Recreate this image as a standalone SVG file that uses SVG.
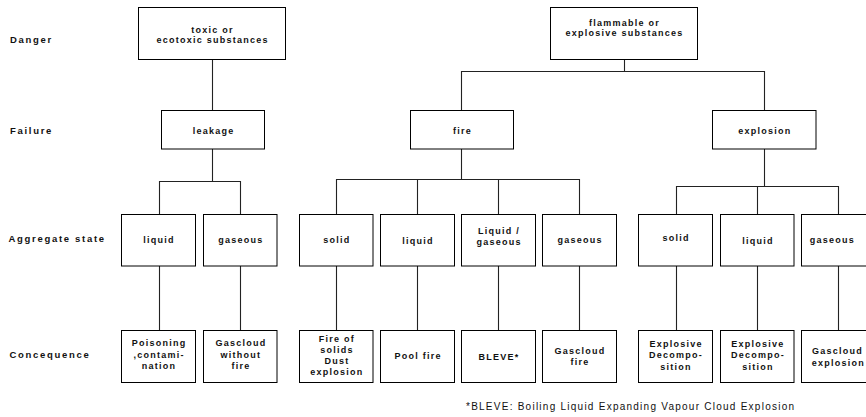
<svg xmlns="http://www.w3.org/2000/svg" width="866" height="417" viewBox="0 0 866 417">
  <style>
    .box rect { fill: #fff; stroke: #000; stroke-width: 1; }
    .box text { font-family: "Liberation Sans", Arial, sans-serif; font-weight: bold; font-size: 9px; letter-spacing: 1.25px; text-anchor: middle; fill: #111; }
    .row { font-family: "Liberation Sans", Arial, sans-serif; font-weight: bold; font-size: 9.5px; letter-spacing: 1.7px; fill: #111; }
    .note { font-family: "Liberation Sans", Arial, sans-serif; font-size: 10px; letter-spacing: 1.25px; fill: #111; }
    #connectors path { fill: none; stroke: #222; stroke-width: 1.1; }
  </style>
  <rect width="866" height="417" fill="#fff"/>

  <!-- row labels -->
  <g id="row-labels">
    <text class="row" x="10" y="42.5">Danger</text>
    <text class="row" x="10" y="134">Failure</text>
    <text class="row" x="8.5" y="242">Aggregate state</text>
    <text class="row" x="9.5" y="358">Concequence</text>
  </g>

  <!-- connectors -->
  <g id="connectors">
    <path d="M212.5 59.5V110.5"/>
    <path d="M212.5 149V181.5"/>
    <path d="M159.5 214.5V181.5H240.5V214.5"/>
    <path d="M159.5 266V330.5M240.5 266V330.5"/>

    <path d="M624.5 59.5V71.5"/>
    <path d="M461.5 110.5V71.5H764.5V110.5"/>

    <path d="M461.5 149V179.5"/>
    <path d="M336.5 214.5V179.5H579.5V214.5M417.5 179.5V214.5M498.5 179.5V214.5"/>
    <path d="M336.5 266V330.5M417.5 266V330.5M498.5 266V330.5M579.5 266V330.5"/>

    <path d="M764.5 149V186.5"/>
    <path d="M676.5 214.5V186.5H838.5V214.5M757.5 186.5V214.5"/>
    <path d="M676.5 266V330.5M757.5 266V330.5M838.5 266V330.5"/>
  </g>

  <!-- danger level -->
  <g id="toxic" class="box">
    <rect x="138.5" y="7.5" width="147" height="52"/>
    <text x="212.6" y="32.5">toxic or</text>
    <text x="212.6" y="42.5">ecotoxic substances</text>
  </g>
  <g id="flammable" class="box">
    <rect x="550.5" y="7.5" width="147" height="52"/>
    <text x="624.6" y="26">flammable or</text>
    <text x="624.6" y="35.5">explosive substances</text>
  </g>

  <!-- failure level -->
  <g id="leakage" class="box">
    <rect x="161.5" y="110.5" width="103" height="38.5"/>
    <text x="213.6" y="134">leakage</text>
  </g>
  <g id="fire" class="box">
    <rect x="410.5" y="110.5" width="103" height="38.5"/>
    <text x="462.6" y="134">fire</text>
  </g>
  <g id="explosion" class="box">
    <rect x="712.5" y="110.5" width="103.5" height="38.5"/>
    <text x="764.9" y="134">explosion</text>
  </g>

  <!-- aggregate state level -->
  <g id="leak-liquid" class="box">
    <rect x="121.5" y="214.5" width="74" height="51.5"/>
    <text x="159.1" y="243">liquid</text>
  </g>
  <g id="leak-gaseous" class="box">
    <rect x="203.5" y="214.5" width="73.5" height="51.5"/>
    <text x="240.9" y="243">gaseous</text>
  </g>
  <g id="fire-solid" class="box">
    <rect x="299.5" y="214.5" width="73.5" height="51.5"/>
    <text x="336.9" y="242.5">solid</text>
  </g>
  <g id="fire-liquid" class="box">
    <rect x="380.5" y="214.5" width="74" height="51.5"/>
    <text x="418.1" y="243.5">liquid</text>
  </g>
  <g id="fire-liquid-gaseous" class="box">
    <rect x="461.5" y="214.5" width="74" height="51.5"/>
    <text x="499.1" y="234">Liquid /</text>
    <text x="499.1" y="244.5">gaseous</text>
  </g>
  <g id="fire-gaseous" class="box">
    <rect x="542.5" y="214.5" width="74" height="51.5"/>
    <text x="580.1" y="243">gaseous</text>
  </g>
  <g id="expl-solid" class="box">
    <rect x="638.5" y="214.5" width="74" height="51.5"/>
    <text x="676.1" y="241">solid</text>
  </g>
  <g id="expl-liquid" class="box">
    <rect x="720.5" y="214.5" width="73.5" height="51.5"/>
    <text x="757.9" y="243.5">liquid</text>
  </g>
  <g id="expl-gaseous" class="box">
    <rect x="801.5" y="214.5" width="74" height="51.5"/>
    <text x="832.5" y="243">gaseous</text>
  </g>

  <!-- consequence level -->
  <g id="poisoning" class="box">
    <rect x="121.5" y="330.5" width="74" height="52"/>
    <text x="159.1" y="346">Poisoning</text>
    <text x="159.1" y="357.5">,contami-</text>
    <text x="159.1" y="369">nation</text>
  </g>
  <g id="gascloud-no-fire" class="box">
    <rect x="203.5" y="330.5" width="73.5" height="52"/>
    <text x="240.9" y="346">Gascloud</text>
    <text x="240.9" y="357.5">without</text>
    <text x="240.9" y="369">fire</text>
  </g>
  <g id="fire-of-solids" class="box">
    <rect x="299.5" y="330.5" width="73.5" height="52"/>
    <text x="336.9" y="341.5">Fire of</text>
    <text x="336.9" y="352.5">solids</text>
    <text x="336.9" y="363.5">Dust</text>
    <text x="336.9" y="375">explosion</text>
  </g>
  <g id="pool-fire" class="box">
    <rect x="380.5" y="330.5" width="74" height="52"/>
    <text x="418.1" y="358.5">Pool fire</text>
  </g>
  <g id="bleve" class="box">
    <rect x="461.5" y="330.5" width="74" height="52"/>
    <text x="499.1" y="360">BLEVE*</text>
  </g>
  <g id="gascloud-fire" class="box">
    <rect x="542.5" y="330.5" width="74" height="52"/>
    <text x="580.1" y="353.5">Gascloud</text>
    <text x="580.1" y="365">fire</text>
  </g>
  <g id="expl-decomp-solid" class="box">
    <rect x="638.5" y="330.5" width="74" height="52"/>
    <text x="676.1" y="346.5">Explosive</text>
    <text x="676.1" y="358">Decompo-</text>
    <text x="676.1" y="370">sition</text>
  </g>
  <g id="expl-decomp-liquid" class="box">
    <rect x="720.5" y="330.5" width="73.5" height="52"/>
    <text x="757.9" y="346.5">Explosive</text>
    <text x="757.9" y="358">Decompo-</text>
    <text x="757.9" y="370">sition</text>
  </g>
  <g id="gascloud-explosion" class="box">
    <rect x="801.5" y="330.5" width="74" height="52"/>
    <text x="837.5" y="354">Gascloud</text>
    <text x="838.5" y="365.5">explosion</text>
  </g>

  <!-- footnote -->
  <text class="note" x="466" y="410">*BLEVE: Boiling Liquid Expanding Vapour Cloud Explosion</text>
</svg>
